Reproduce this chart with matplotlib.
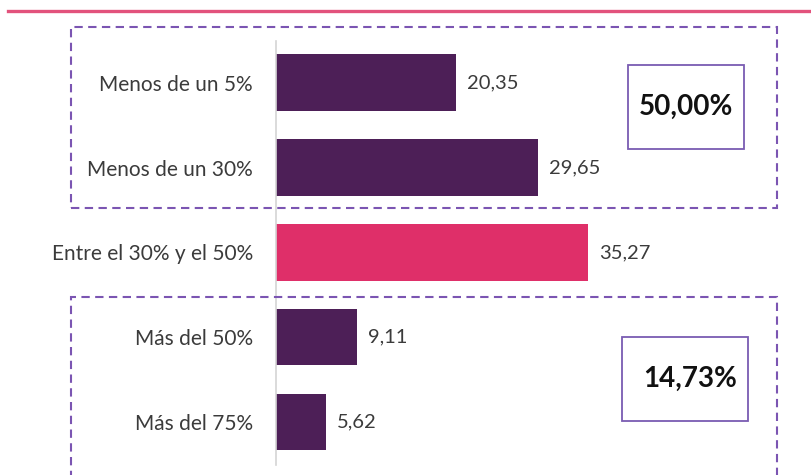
import matplotlib
matplotlib.use("Agg")
import matplotlib.pyplot as plt
from matplotlib.patches import Rectangle
from matplotlib.lines import Line2D

categories = ["Menos de un 5%", "Menos de un 30%", "Entre el 30% y el 50%", "Más del 50%", "Más del 75%"]
values = [20.35, 29.65, 35.27, 9.11, 5.62]
value_labels = ["20,35", "29,65", "35,27", "9,11", "5,62"]
bar_colors = ["#4d1f57", "#4d1f57", "#df2f69", "#4d1f57", "#4d1f57"]
group_totals = ["50,00%", "14,73%"]

W, H = 812, 475
fig = plt.figure(figsize=(W / 100, H / 100), dpi=100)

def fx(px):
    return px / W

def fy(py):
    return 1 - py / H

FONT = "Lato"
# main axes: x from 276 px to 812 px, y from 41 px to 465 px
ax = fig.add_axes([fx(276), fy(465), fx(812) - fx(276), (465 - 41) / H])
ypos = list(range(len(categories)))
ax.barh(ypos, values, height=0.666, color=bar_colors, edgecolor="none")
ax.set_xlim(0, (812 - 276) / 8.84)
ax.set_ylim(4.506, -0.492)
ax.set_xticks([])
ax.set_yticks(ypos)
ax.set_yticklabels(categories, fontsize=15, color="#3b3b3b", fontfamily=FONT)
ax.tick_params(axis="y", length=0, pad=16.5)
for s in ["top", "right", "bottom"]:
    ax.spines[s].set_visible(False)
ax.spines["left"].set_color("#d4d4d4")
ax.spines["left"].set_linewidth(1.2)
ax.patch.set_alpha(0)

for y, v, lab in zip(ypos, values, value_labels):
    ax.annotate(lab, (v, y), xytext=(8, 0), textcoords="offset points",
                va="center", ha="left", fontsize=14.5, color="#3b3b3b", fontfamily=FONT)

# top pink line
fig.add_artist(Line2D([fx(8), fx(812)], [fy(11), fy(11)], color="#e2527c", lw=2.4))

dash_col = "#7b55b2"
def dashed_box(x0, y0, x1, y1):
    r = Rectangle((fx(x0), fy(y1)), fx(x1) - fx(x0), fy(y0) - fy(y1),
                  transform=fig.transFigure, fill=False, edgecolor=dash_col,
                  lw=1.5, linestyle=(0, (4, 2.6)), clip_on=False)
    fig.add_artist(r)

dashed_box(71, 27, 777, 208)
dashed_box(71, 297, 777, 490)

def total_box(x0, y0, x1, y1, txt, tx):
    r = Rectangle((fx(x0), fy(y1)), fx(x1) - fx(x0), fy(y0) - fy(y1),
                  transform=fig.transFigure, fill=True, facecolor="white",
                  edgecolor="#7a5cb2", lw=1.3)
    fig.add_artist(r)
    fig.text(fx(tx), fy((y0 + y1) / 2), txt, ha="center", va="center",
             fontsize=20, fontweight="bold", color="#111111", fontfamily=FONT)

total_box(628, 65, 744, 149, group_totals[0], 686)
total_box(622, 337, 748, 421, group_totals[1], 690)

fig.savefig("out.png", dpi=100)
